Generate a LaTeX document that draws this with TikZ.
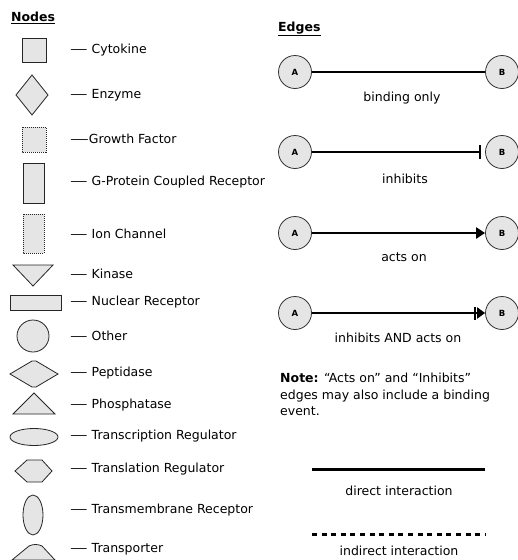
\documentclass[tikz,border=0pt]{standalone}
\usepackage{fontspec}
\setmainfont{DejaVu Sans}
\usetikzlibrary{arrows.meta}
\newcommand{\ldash}{\scalebox{1.4}[1]{—}\hspace{4pt}}
\begin{document}
\begin{tikzpicture}[x=1pt,y=-1pt,
  shp/.style={draw=black!85, fill=black!10, line width=0.8pt},
  dshp/.style={shp, dash pattern=on 1pt off 1pt},
  lbl/.style={anchor=west, inner sep=0pt, font=\fontsize{12.5}{15}\selectfont},
  head/.style={anchor=west, inner sep=0pt, font=\bfseries\fontsize{12.5}{15}\selectfont},
  circ/.style={circle, draw=black!80, fill=black!10, line width=0.8pt, minimum size=33pt, inner sep=0pt, font=\bfseries\fontsize{8.5}{9}\selectfont},
  edgeline/.style={line width=2.6pt},
  captxt/.style={inner sep=0pt, font=\fontsize{12.5}{15}\selectfont}]
\useasboundingbox (0,0) rectangle (518,560);
\fill[white] (0,0) rectangle (518,560);

% headings
\node[head] (hnodes) at (11,18) {\underline{Nodes}};
\node[head] (hedges) at (278,29) {\underline{Edges}};

% node shapes
\draw[shp] (22,38) rectangle (46,62);
\node[lbl] (l1) at (70,50) {\ldash Cytokine};
\draw[shp] (32,75) -- (48,95) -- (32,115) -- (16,95) -- cycle;
\node[lbl] (l2) at (70,95) {\ldash Enzyme};
\draw[dshp] (22,127) rectangle (46,152);
\node[lbl] (l3) at (70,139) {\scalebox{1.5}[1]{—}Growth Factor};
\draw[shp] (23,163) rectangle (44,203);
\node[lbl] (l4) at (70,182) {\ldash G-Protein Coupled Receptor};
\draw[dshp] (23,214) rectangle (44,253);
\node[lbl] (l5) at (70,234) {\ldash Ion Channel};
\draw[shp] (13,265) -- (53,265) -- (33,286) -- cycle;
\node[lbl] (l6) at (70,274) {\ldash Kinase};
\draw[shp] (10,295) rectangle (61,310);
\node[lbl] (l7) at (70,302) {\ldash Nuclear Receptor};
\draw[shp] (33,336) circle[radius=16];
\node[lbl] (l8) at (70,336) {\ldash Other};
\draw[shp] (10,374) -- (32,361) -- (36,361) -- (58,374) -- (36,387) -- (32,387) -- cycle;
\node[lbl] (l9) at (70,373) {\ldash Peptidase};
\draw[shp] (13,414) -- (34,393) -- (55,414) -- cycle;
\node[lbl] (l10) at (70,405) {\ldash Phosphatase};
\draw[shp] (34,437) ellipse[x radius=24, y radius=8.5];
\node[lbl] (l11) at (70,436) {\ldash Transcription Regulator};
\draw[shp] (15,471) -- (27,460) -- (42,460) -- (52,471) -- (42,482) -- (27,482) -- cycle;
\node[lbl] (l12) at (70,469) {\ldash Translation Regulator};
\draw[shp] (33,515) ellipse[x radius=10, y radius=20];
\node[lbl] (l13) at (70,510) {\ldash Transmembrane Receptor};
\draw[shp] (12,560) -- (29,546) .. controls (33,544) and (38,544) .. (42,546) -- (55,560) -- cycle;
\node[lbl] (l14) at (70,549) {\ldash Transporter};

% edges legend
\node[circ] (a1) at (295,72) {A};
\node[circ] (b1) at (502,72) {B};
\draw[edgeline] (a1) -- (b1);
\node[captxt] (c1) at (402,98) {binding only};

\node[circ] (a2) at (295,152) {A};
\node[circ] (b2) at (502,152) {B};
\draw[edgeline, -{Bar[width=14pt,line width=2.4pt]}, shorten >=4pt] (a2) -- (b2);
\node[captxt] (c2) at (405,179) {inhibits};

\node[circ] (a3) at (295,233) {A};
\node[circ] (b3) at (502,233) {B};
\draw[edgeline, -{Triangle[length=9pt,width=11pt]}] (a3) -- (b3);
\node[captxt] (c3) at (404,257) {acts on};

\node[circ] (a4) at (295,313) {A};
\node[circ] (b4) at (502,313) {B};
\draw[edgeline, -{Bar[width=13pt,line width=2.2pt,sep=1pt]Triangle[length=8pt,width=11pt]}] (a4) -- (b4);
\node[captxt] (c4) at (398,338) {inhibits AND acts on};

\node[anchor=north west, inner sep=0pt, align=left, font=\fontsize{12.5}{16.5}\selectfont] (note) at (280,373)
  {\textbf{Note:} “Acts on” and “Inhibits”\\edges may also include a binding\\event.};

\coordinate (d1) at (312,469);
\coordinate (d2) at (485,469);
\draw[line width=3pt] (d1) -- (d2);
\node[captxt] (c5) at (399,491) {direct interaction};

\coordinate (e1) at (312,534);
\coordinate (e2) at (485,534);
\draw[line width=3pt, dash pattern=on 5pt off 4.6pt] (e1) -- (e2);
\node[captxt] (c6) at (399,551) {indirect interaction};
\end{tikzpicture}
\end{document}
